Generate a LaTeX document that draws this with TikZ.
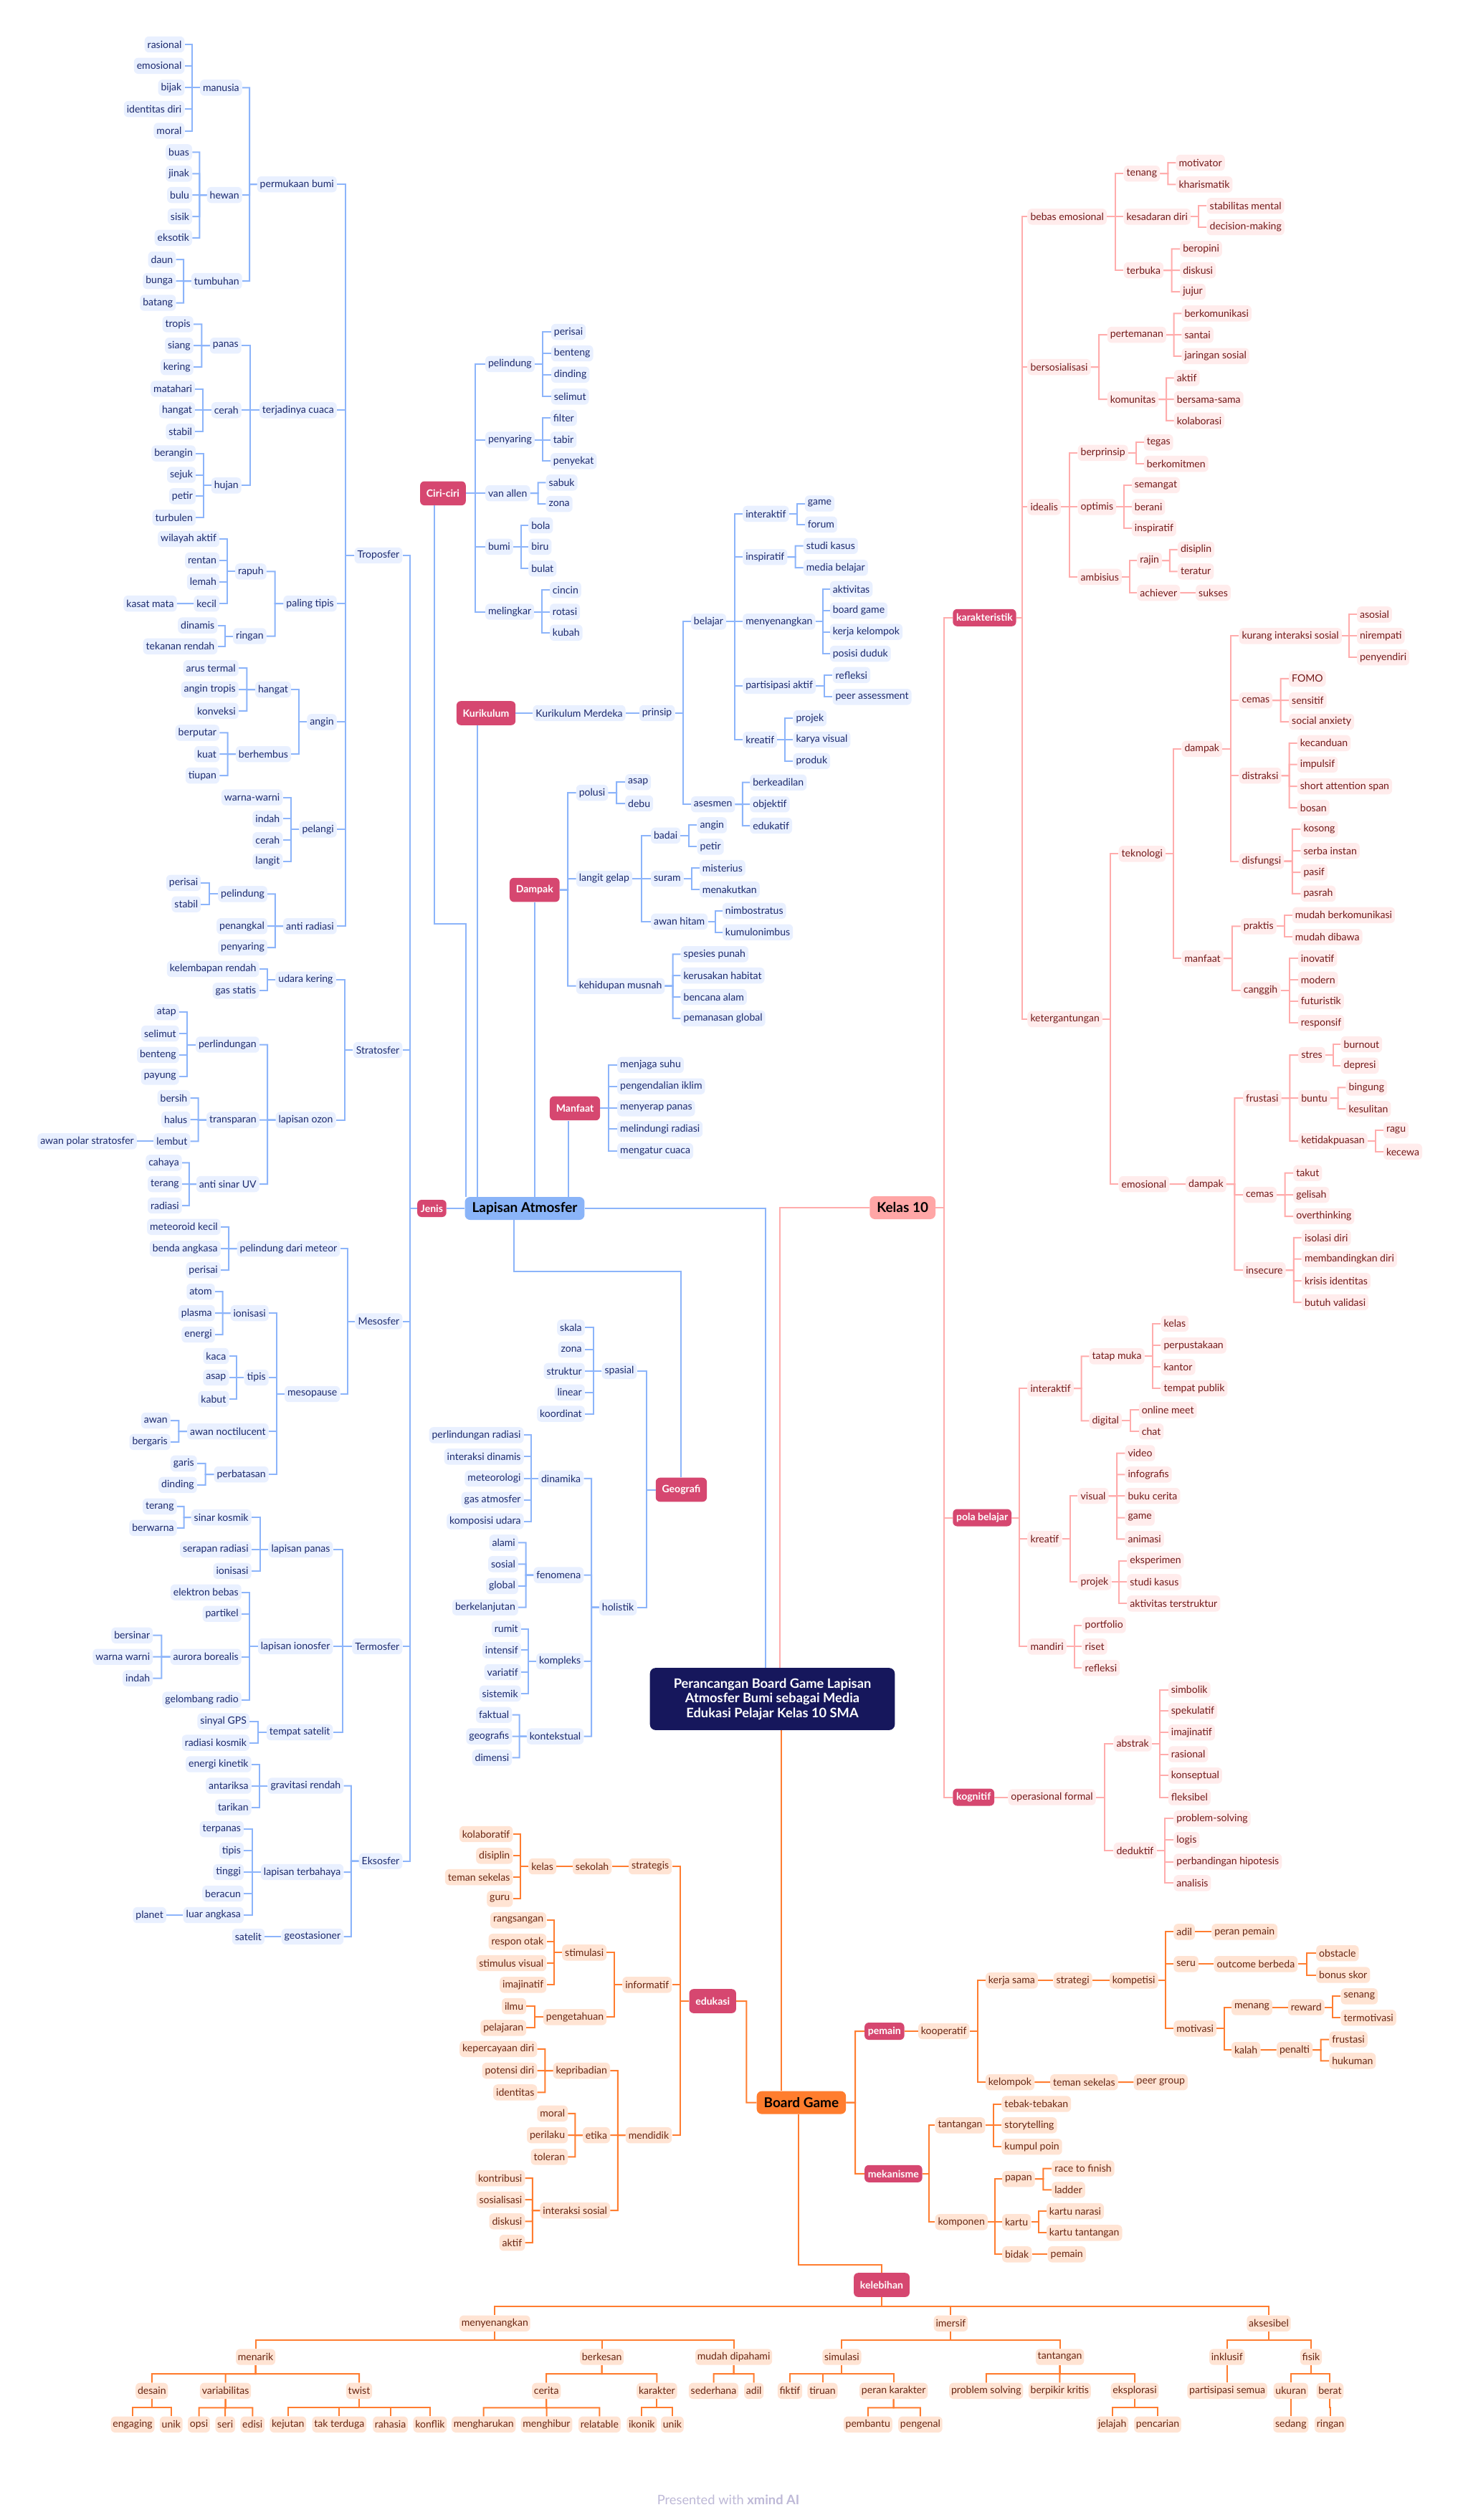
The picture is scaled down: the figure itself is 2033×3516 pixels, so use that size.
\documentclass[tikz,border=0pt]{standalone}
\usepackage{fontspec}
\setmainfont{Lato}
\usepackage{tikz}
\usetikzlibrary{calc}
\definecolor{bline}{RGB}{140,180,250}
\definecolor{bfill}{RGB}{233,240,255}
\definecolor{btext}{RGB}{28,42,110}
\definecolor{broot}{RGB}{138,180,248}
\definecolor{topicc}{RGB}{214,71,112}
\definecolor{pline}{RGB}{255,172,172}
\definecolor{pfill}{RGB}{255,236,236}
\definecolor{ptext}{RGB}{115,25,25}
\definecolor{proot}{RGB}{255,166,166}
\definecolor{oline}{RGB}{255,125,48}
\definecolor{ofill}{RGB}{255,228,212}
\definecolor{otext}{RGB}{105,38,18}
\definecolor{oroot}{RGB}{255,125,46}
\definecolor{navy}{RGB}{22,23,92}
\definecolor{footc}{RGB}{190,185,215}
\begin{document}
\begin{tikzpicture}[
    x=0.25mm, y=-0.25mm,
    leaf/.style={rounded corners=1.5mm, inner xsep=1mm, inner ysep=0.5mm, minimum height=5.6mm, font=\fontsize{10}{12}\selectfont},
    bl/.style={leaf, fill=bfill, text=btext},
    pl/.style={leaf, fill=pfill, text=ptext},
    ol/.style={leaf, fill=ofill, text=otext},
    olb/.style={ol, inner xsep=0.7mm},
    topic/.style={rounded corners=1.5mm, fill=topicc, text=white, inner xsep=2.2mm, minimum height=8.4mm, font=\bfseries\fontsize{10}{12}\selectfont},
    topics/.style={topic, minimum height=6mm, inner xsep=1.2mm},
    main/.style={rounded corners=1.8mm, text=black, inner xsep=2.5mm, minimum height=8mm, font=\bfseries\fontsize{13.5}{16}\selectfont},
    lnb/.style={draw=bline, line width=0.5mm},
    lnp/.style={draw=pline, line width=0.5mm},
    lno/.style={draw=oline, line width=0.5mm},
    toL/.style={to path={(\tikztostart.west) -- ($(\tikztostart.west)!.5!(\tikztotarget.east |- \tikztostart.west)$) |- (\tikztotarget.east)}},
    toR/.style={to path={(\tikztostart.east) -- ($(\tikztostart.east)!.5!(\tikztotarget.west |- \tikztostart.east)$) |- (\tikztotarget.west)}},
    toD/.style={to path={(\tikztostart.south) -- ($(\tikztostart.south)!.5!(\tikztostart.south |- \tikztotarget.north)$) -| (\tikztotarget.north)}}
]
\useasboundingbox (0,0) rectangle (2033,3516);
\fill[white] (0,0) rectangle (2033,3516);

\node[fill=navy, text=white, rounded corners=2mm, align=center, minimum width=85.4mm, minimum height=21.7mm, font=\bfseries\fontsize{13}{14.7}\selectfont] (cen) at (1077.5,2370.5) {Perancangan Board Game Lapisan\\Atmosfer Bumi sebagai Media\\Edukasi Pelajar Kelas 10 SMA};
\node[main, fill=broot] (la) at (732,1686) {Lapisan Atmosfer};
\node[main, fill=proot, anchor=west] (kel) at (1213,1685) {Kelas 10};
\node[main, fill=oroot] (bg) at (1117.9,2933.6) {Board Game};
\coordinate (cenL) at ($(cen.north)+(-9.5,0)$);
\coordinate (cenR) at ($(cen.north)+(10.5,0)$);
\coordinate (cenB) at ($(cen.south)+(12.5,0)$);
\draw[lnb] (la.east) -| (cenL);
\draw[lnp] (cenR) |- (kel.west);
\draw[lno] (cenB) -- (cenB |- bg.north);

\node[topics, anchor=east] (jen) at (623,1686) {Jenis};
\node[topic, anchor=west] (ciri) at (585.8,688.3) {Ciri-ciri};
\node[topic, anchor=west] (kur) at (636.6,995) {Kurikulum};
\node[topic, anchor=west] (dam) at (710.7,1241.6) {Dampak};
\node[topic, anchor=west] (manf) at (766.7,1546.4) {Manfaat};
\node[topic, anchor=west] (geo) at (914.5,2078.5) {Geografi};
\coordinate (j1) at (649.5,1289);
\coordinate (kurb) at ($(kur.south)+(-12,0)$);
\coordinate (manb) at ($(manf.south)+(-9,0)$);
\coordinate (lab) at ($(la.south)+(-15,0)$);
\draw[lnb] (jen.east) -- (la.west);
\draw[lnb] ($(ciri.south)+(-12,0)$) |- (j1) -- (j1 |- la.north);
\draw[lnb] (kurb) -- (kurb |- la.north);
\draw[lnb] (dam.south) -- (dam.south |- la.north);
\draw[lnb] (manb) -- (manb |- la.north);
\draw[lnb] (lab) -- ++(0,72) -| (geo.north);

\foreach \nm/\yy/\lb in {tro/775/Troposfer, str/1465/Stratosfer, mes/1843.5/Mesosfer, ter/2297/Termosfer, eks/2596.7/Eksosfer}
  {\node[bl,anchor=east] (\nm) at (561.6,\yy) {\lb}; \draw[lnb] (jen) to[toL] (\nm);}

\foreach \nm/\yy/\lb in {pbumi/257.2/permukaan bumi, cuaca/572.3/terjadinya cuaca, ptipis/842.1/paling tipis, angin/1007.4/angin, plangi/1157.3/pelangi, antirad/1292.2/anti radiasi}
  {\node[bl,anchor=east] (\nm) at (470,\yy) {\lb}; \draw[lnb] (tro) to[toL] (\nm);}
\foreach \nm/\yy/\lb in {manusia/122.3/manusia, hewan/272.1/hewan, tumbuhan/392.1/tumbuhan}
  {\node[bl,anchor=east] (\nm) at (338,\yy) {\lb}; \draw[lnb] (pbumi) to[toL] (\nm);}
\foreach \nm/\yy/\lb in {rasA/62/rasional, emo/91.8/emosional, bijak/122.3/bijak, idd/152.1/identitas diri, morA/182.5/moral}
  {\node[bl,anchor=east] (\nm) at (257.6,\yy) {\lb}; \draw[lnb] (manusia) to[toL] (\nm);}
\foreach \nm/\yy/\lb in {buas/212.4/buas, jinak/242.3/jinak, bulu/272.1/bulu, sisik/302/sisik, eksotik/331.8/eksotik}
  {\node[bl,anchor=east] (\nm) at (268.3,\yy) {\lb}; \draw[lnb] (hewan) to[toL] (\nm);}
\foreach \nm/\yy/\lb in {daun/362.2/daun, bunga/392.1/bunga, batang/422.5/batang}
  {\node[bl,anchor=east] (\nm) at (245.5,\yy) {\lb}; \draw[lnb] (tumbuhan) to[toL] (\nm);}
\foreach \nm/\yy/\lb in {panas/482.2/panas, cerahA/572.3/cerah, hujan/677.4/hujan}
  {\node[bl,anchor=east] (\nm) at (337,\yy) {\lb}; \draw[lnb] (cuaca) to[toL] (\nm);}
\foreach \nm/\yy/\lb in {tropis/452.4/tropis, siang/482.2/siang, kering/512.1/kering}
  {\node[bl,anchor=east] (\nm) at (270,\yy) {\lb}; \draw[lnb] (panas) to[toL] (\nm);}
\foreach \nm/\yy/\lb in {matahari/542.5/matahari, hangatA/572.3/hangat, stabA/602.2/stabil}
  {\node[bl,anchor=east] (\nm) at (272.3,\yy) {\lb}; \draw[lnb] (cerahA) to[toL] (\nm);}
\foreach \nm/\yy/\lb in {berangin/632.6/berangin, sejuk/662.5/sejuk, petirA/692.3/petir, turbulen/722.2/turbulen}
  {\node[bl,anchor=east] (\nm) at (273.2,\yy) {\lb}; \draw[lnb] (hujan) to[toL] (\nm);}
\foreach \nm/\yy/\lb in {rapuh/797.4/rapuh, ringanA/887.5/ringan}
  {\node[bl,anchor=east] (\nm) at (371.9,\yy) {\lb}; \draw[lnb] (ptipis) to[toL] (\nm);}
\foreach \nm/\yy/\lb in {wilaktif/752/wilayah aktif, rentan/781.9/rentan, lemah/811.7/lemah, kecil/842.1/kecil}
  {\node[bl,anchor=east] (\nm) at (306.3,\yy) {\lb}; \draw[lnb] (rapuh) to[toL] (\nm);}
\node[bl,anchor=east] (kasat) at (246.9,842.1) {kasat mata};
\draw[lnb] (kecil) to[toL] (kasat);
\foreach \nm/\yy/\lb in {dinamis/872.6/dinamis, tekrendah/901.8/tekanan rendah}
  {\node[bl,anchor=east] (\nm) at (303.6,\yy) {\lb}; \draw[lnb] (ringanA) to[toL] (\nm);}
\foreach \nm/\yy/\lb in {hangatB/962.1/hangat, berhembus/1052.2/berhembus}
  {\node[bl,anchor=east] (\nm) at (406.3,\yy) {\lb}; \draw[lnb] (angin) to[toL] (\nm);}
\foreach \nm/\yy/\lb in {arus/932.2/arus termal, angtropis/962.1/angin tropis, konveksi/991.9/konveksi}
  {\node[bl,anchor=east] (\nm) at (333,\yy) {\lb}; \draw[lnb] (hangatB) to[toL] (\nm);}
\foreach \nm/\yy/\lb in {berputar/1022.4/berputar, kuat/1052.2/kuat, tiupan/1082.1/tiupan}
  {\node[bl,anchor=east] (\nm) at (306.3,\yy) {\lb}; \draw[lnb] (berhembus) to[toL] (\nm);}
\foreach \nm/\yy/\lb in {warnaA/1112.5/warna-warni, indahA/1142.3/indah, cerahB/1172.2/cerah, langit/1202/langit}
  {\node[bl,anchor=east] (\nm) at (394.6,\yy) {\lb}; \draw[lnb] (plangi) to[toL] (\nm);}
\foreach \nm/\yy/\lb in {pelA/1247.4/pelindung, penangkal/1292.2/penangkal, penyA/1322/penyaring}
  {\node[bl,anchor=east] (\nm) at (373.2,\yy) {\lb}; \draw[lnb] (antirad) to[toL] (\nm);}
\foreach \nm/\yy/\lb in {perA/1231.9/perisai, stabB/1261.7/stabil}
  {\node[bl,anchor=east] (\nm) at (280.4,\yy) {\lb}; \draw[lnb] (pelA) to[toL] (\nm);}

\foreach \nm/\yy/\lb in {udkering/1366.8/udara kering, ozon/1562.6/lapisan ozon}
  {\node[bl,anchor=east] (\nm) at (468.8,\yy) {\lb}; \draw[lnb] (str) to[toL] (\nm);}
\foreach \nm/\yy/\lb in {lembap/1351.9/kelembapan rendah, gasstatis/1382.3/gas statis}
  {\node[bl,anchor=east] (\nm) at (361.6,\yy) {\lb}; \draw[lnb] (udkering) to[toL] (\nm);}
\foreach \nm/\yy/\lb in {perlind/1457.5/perlindungan, transp/1562.6/transparan, antiuv/1652.1/anti sinar UV}
  {\node[bl,anchor=east] (\nm) at (362,\yy) {\lb}; \draw[lnb] (ozon) to[toL] (\nm);}
\foreach \nm/\yy/\lb in {atap/1412.2/atap, selA/1442/selimut, bentA/1471.9/benteng, payung/1502.3/payung}
  {\node[bl,anchor=east] (\nm) at (250,\yy) {\lb}; \draw[lnb] (perlind) to[toL] (\nm);}
\foreach \nm/\yy/\lb in {bersih/1532.1/bersih, halus/1562/halus, lembut/1592.4/lembut}
  {\node[bl,anchor=east] (\nm) at (265.6,\yy) {\lb}; \draw[lnb] (transp) to[toL] (\nm);}
\node[bl,anchor=east] (awanpolar) at (191.1,1592.4) {awan polar stratosfer};
\draw[lnb] (lembut) to[toL] (awanpolar);
\foreach \nm/\yy/\lb in {cahaya/1622.3/cahaya, terA/1652.1/terang, radA/1682/radiasi}
  {\node[bl,anchor=east] (\nm) at (254,\yy) {\lb}; \draw[lnb] (antiuv) to[toL] (\nm);}

\foreach \nm/\yy/\lb in {pdm/1742.2/pelindung dari meteor, mesop/1945/mesopause}
  {\node[bl,anchor=east] (\nm) at (474.6,\yy) {\lb}; \draw[lnb] (mes) to[toL] (\nm);}
\foreach \nm/\yy/\lb in {metkecil/1711.8/meteoroid kecil, benda/1742.2/benda angkasa, perB/1772.1/perisai}
  {\node[bl,anchor=east] (\nm) at (308,\yy) {\lb}; \draw[lnb] (pdm) to[toL] (\nm);}
\foreach \nm/\yy/\lb in {ionA/1832.1/ionisasi, tipA/1922/tipis, noct/1997.2/awan noctilucent, perbat/2057.2/perbatasan}
  {\node[bl,anchor=east] (\nm) at (375,\yy) {\lb}; \draw[lnb] (mesop) to[toL] (\nm);}
\foreach \nm/\yy/\lb in {atom/1802.1/atom, plasma/1832.1/plasma, energi/1862/energi}
  {\node[bl,anchor=east] (\nm) at (300,\yy) {\lb}; \draw[lnb] (ionA) to[toL] (\nm);}
\foreach \nm/\yy/\lb in {kaca/1892/kaca, asapA/1922/asap, kabut/1952/kabut}
  {\node[bl,anchor=east] (\nm) at (319.6,\yy) {\lb}; \draw[lnb] (tipA) to[toL] (\nm);}
\foreach \nm/\yy/\lb in {awan/1982/awan, bergaris/2011.9/bergaris}
  {\node[bl,anchor=east] (\nm) at (238,\yy) {\lb}; \draw[lnb] (noct) to[toL] (\nm);}
\foreach \nm/\yy/\lb in {garis/2041.9/garis, dindA/2071.9/dinding}
  {\node[bl,anchor=east] (\nm) at (275,\yy) {\lb}; \draw[lnb] (perbat) to[toL] (\nm);}

\foreach \nm/\yy/\lb in {lpanas/2161.8/lapisan panas, lion/2297/lapisan ionosfer, tsat/2416.9/tempat satelit}
  {\node[bl,anchor=east] (\nm) at (464.7,\yy) {\lb}; \draw[lnb] (ter) to[toL] (\nm);}
\foreach \nm/\yy/\lb in {sinkos/2117.1/sinar kosmik, serapan/2161.8/serapan radiasi, ionB/2191.8/ionisasi}
  {\node[bl,anchor=east] (\nm) at (350.9,\yy) {\lb}; \draw[lnb] (lpanas) to[toL] (\nm);}
\foreach \nm/\yy/\lb in {terB/2101.8/terang, berwarna/2131.8/berwarna}
  {\node[bl,anchor=east] (\nm) at (246.9,\yy) {\lb}; \draw[lnb] (sinkos) to[toL] (\nm);}
\foreach \nm/\yy/\lb in {elektron/2221.7/elektron bebas, partikel/2251.7/partikel, aurora/2311.7/aurora borealis, gelradio/2371.6/gelombang radio}
  {\node[bl,anchor=east] (\nm) at (337,\yy) {\lb}; \draw[lnb] (lion) to[toL] (\nm);}
\foreach \nm/\yy/\lb in {bersinar/2281.7/bersinar, warnaB/2311.7/warna warni, indahB/2341.6/indah}
  {\node[bl,anchor=east] (\nm) at (213.4,\yy) {\lb}; \draw[lnb] (aurora) to[toL] (\nm);}
\foreach \nm/\yy/\lb in {gps/2401.6/sinyal GPS, radkos/2431.6/radiasi kosmik}
  {\node[bl,anchor=east] (\nm) at (348.2,\yy) {\lb}; \draw[lnb] (tsat) to[toL] (\nm);}

\foreach \nm/\yy/\lb in {grav/2491.5/gravitasi rendah, terbahaya/2612/lapisan terbahaya, geostas/2702/geostasioner}
  {\node[bl,anchor=east] (\nm) at (479.5,\yy) {\lb}; \draw[lnb] (eks) to[toL] (\nm);}
\foreach \nm/\yy/\lb in {enkin/2461.5/energi kinetik, antariksa/2491.5/antariksa, tarikan/2521.5/tarikan}
  {\node[bl,anchor=east] (\nm) at (350.9,\yy) {\lb}; \draw[lnb] (grav) to[toL] (\nm);}
\foreach \nm/\yy/\lb in {terpanas/2552.1/terpanas, tipB/2582.1/tipis, tinggi/2612/tinggi, beracun/2642/beracun, luarang/2672/luar angkasa}
  {\node[bl,anchor=east] (\nm) at (340.2,\yy) {\lb}; \draw[lnb] (terbahaya) to[toL] (\nm);}
\node[bl,anchor=east] (planet) at (232.1,2672) {planet};
\draw[lnb] (luarang) to[toL] (planet);
\node[bl,anchor=east] (satelit) at (369.2,2702) {satelit};
\draw[lnb] (geostas) to[toL] (satelit);

\foreach \nm/\yy/\lb in {pelB/507.9/pelindung, penyB/613.5/penyaring, vanallen/688.2/van allen, bumi/762.8/bumi, melingkar/853.5/melingkar}
  {\node[bl,anchor=west] (\nm) at (676.8,\yy) {\lb}; \draw[lnb] (ciri) to[toR] (\nm);}
\foreach \nm/\yy/\lb in {perC/463.1/perisai, bentB/493/benteng, dindB/522.8/dinding, selB/553.3/selimut}
  {\node[bl,anchor=west] (\nm) at (768.6,\yy) {\lb}; \draw[lnb] (pelB) to[toR] (\nm);}
\foreach \nm/\yy/\lb in {filter/583.1/filter, tabir/613.5/tabir, penyekat/643.4/penyekat}
  {\node[bl,anchor=west] (\nm) at (767.6,\yy) {\lb}; \draw[lnb] (penyB) to[toR] (\nm);}
\foreach \nm/\yy/\lb in {sabuk/673.3/sabuk, zonaA/703.1/zona}
  {\node[bl,anchor=west] (\nm) at (761.4,\yy) {\lb}; \draw[lnb] (vanallen) to[toR] (\nm);}
\foreach \nm/\yy/\lb in {bola/733/bola, biru/762.8/biru, bulat/793.2/bulat}
  {\node[bl,anchor=west] (\nm) at (737,\yy) {\lb}; \draw[lnb] (bumi) to[toR] (\nm);}
\foreach \nm/\yy/\lb in {cincin/823.1/cincin, rotasi/853.5/rotasi, kubah/882.8/kubah}
  {\node[bl,anchor=west] (\nm) at (766.7,\yy) {\lb}; \draw[lnb] (melingkar) to[toR] (\nm);}

\node[bl,anchor=west] (kurm) at (743.2,995) {Kurikulum Merdeka};
\node[bl,anchor=west] (prinsip) at (891.5,995) {prinsip};
\draw[lnb] (kur) to[toR] (kurm);
\draw[lnb] (kurm) to[toR] (prinsip);
\foreach \nm/\yy/\lb in {belajar/867.3/belajar, asesmen/1122.2/asesmen}
  {\node[bl,anchor=west] (\nm) at (963.7,\yy) {\lb}; \draw[lnb] (prinsip) to[toR] (\nm);}
\foreach \nm/\yy/\lb in {intA/716.9/interaktif, inspA/777.2/inspiratif, senangA/867.3/menyenangkan, partaktif/956.8/partisipasi aktif, kreA/1032/kreatif}
  {\node[bl,anchor=west] (\nm) at (1036,\yy) {\lb}; \draw[lnb] (belajar) to[toR] (\nm);}
\foreach \nm/\yy/\lb in {gameA/702.5/game, forum/731.8/forum}
  {\node[bl,anchor=west] (\nm) at (1122.5,\yy) {\lb}; \draw[lnb] (intA) to[toR] (\nm);}
\foreach \nm/\yy/\lb in {stkasA/761.7/studi kasus, medbel/792.1/media belajar}
  {\node[bl,anchor=west] (\nm) at (1120.6,\yy) {\lb}; \draw[lnb] (inspA) to[toR] (\nm);}
\foreach \nm/\yy/\lb in {aktivitas/821.9/aktivitas, bgame/851.8/board game, kerjakel/881.6/kerja kelompok, posisi/912.1/posisi duduk}
  {\node[bl,anchor=west] (\nm) at (1157.5,\yy) {\lb}; \draw[lnb] (senangA) to[toR] (\nm);}
\foreach \nm/\yy/\lb in {refA/941.9/refleksi, peerass/972.3/peer assessment}
  {\node[bl,anchor=west] (\nm) at (1161.3,\yy) {\lb}; \draw[lnb] (partaktif) to[toR] (\nm);}
\foreach \nm/\yy/\lb in {projA/1002.2/projek, karya/1032/karya visual, produk/1061.9/produk}
  {\node[bl,anchor=west] (\nm) at (1106.3,\yy) {\lb}; \draw[lnb] (kreA) to[toR] (\nm);}
\foreach \nm/\yy/\lb in {berkeadilan/1091.7/berkeadilan, objektif/1122.2/objektif, edukatif/1152/edukatif}
  {\node[bl,anchor=west] (\nm) at (1046,\yy) {\lb}; \draw[lnb] (asesmen) to[toR] (\nm);}

\foreach \nm/\yy/\lb in {polusi/1106.1/polusi, lgelap/1226/langit gelap, musnah/1375.7/kehidupan musnah}
  {\node[bl,anchor=west] (\nm) at (803.5,\yy) {\lb}; \draw[lnb] (dam) to[toR] (\nm);}
\foreach \nm/\yy/\lb in {asapB/1091.2/asap, debu/1121/debu}
  {\node[bl,anchor=west] (\nm) at (871.9,\yy) {\lb}; \draw[lnb] (polusi) to[toR] (\nm);}
\foreach \nm/\yy/\lb in {badai/1165.8/badai, suram/1226/suram, awhitam/1285.8/awan hitam}
  {\node[bl,anchor=west] (\nm) at (907.8,\yy) {\lb}; \draw[lnb] (lgelap) to[toR] (\nm);}
\foreach \nm/\yy/\lb in {anginB/1151.4/angin, petirB/1181.3/petir}
  {\node[bl,anchor=west] (\nm) at (972.4,\yy) {\lb}; \draw[lnb] (badai) to[toR] (\nm);}
\foreach \nm/\yy/\lb in {misterius/1211.1/misterius, menakutkan/1241/menakutkan}
  {\node[bl,anchor=west] (\nm) at (975.7,\yy) {\lb}; \draw[lnb] (suram) to[toR] (\nm);}
\foreach \nm/\yy/\lb in {nimbo/1270.8/nimbostratus, kumulo/1300.7/kumulonimbus}
  {\node[bl,anchor=west] (\nm) at (1007.7,\yy) {\lb}; \draw[lnb] (awhitam) to[toR] (\nm);}
\foreach \nm/\yy/\lb in {spesies/1331.3/spesies punah, habitat/1361.1/kerusakan habitat, bencana/1391/bencana alam, pemanasan/1420.8/pemanasan global}
  {\node[bl,anchor=west] (\nm) at (949.4,\yy) {\lb}; \draw[lnb] (musnah) to[toR] (\nm);}

\foreach \nm/\yy/\lb in {suhu/1485.9/menjaga suhu, iklim/1515.7/pengendalian iklim, serap/1546.3/menyerap panas, melrad/1575.4/melindungi radiasi, atcuaca/1606/mengatur cuaca}
  {\node[bl,anchor=west] (\nm) at (860.9,\yy) {\lb}; \draw[lnb] (manf) to[toR] (\nm);}

\foreach \nm/\yy/\lb in {spasial/1912.9/spasial, holistik/2242.7/holistik}
  {\node[bl,anchor=east] (\nm) at (888.6,\yy) {\lb}; \draw[lnb] (geo) to[toL] (\nm);}
\foreach \nm/\yy/\lb in {skala/1852.4/skala, zonaB/1883/zona, struktur/1912.9/struktur, linear/1942.7/linear, koordinat/1972.6/koordinat}
  {\node[bl,anchor=east] (\nm) at (816,\yy) {\lb}; \draw[lnb] (spasial) to[toL] (\nm);}
\foreach \nm/\yy/\lb in {dinamika/2062.9/dinamika, fenomena/2197.6/fenomena, kompleks/2317.8/kompleks, kontekstual/2422.6/kontekstual}
  {\node[bl,anchor=east] (\nm) at (814.5,\yy) {\lb}; \draw[lnb] (holistik) to[toL] (\nm);}
\foreach \nm/\yy/\lb in {perlrad/2002.4/perlindungan radiasi, intdin/2032.3/interaksi dinamis, meteor/2062.9/meteorologi, gasatm/2092.7/gas atmosfer, kompud/2122.6/komposisi udara}
  {\node[bl,anchor=east] (\nm) at (730.8,\yy) {\lb}; \draw[lnb] (dinamika) to[toL] (\nm);}
\foreach \nm/\yy/\lb in {alami/2152.4/alami, sosial/2182.3/sosial, global/2212.9/global, berkelanjutan/2242.7/berkelanjutan}
  {\node[bl,anchor=east] (\nm) at (723.1,\yy) {\lb}; \draw[lnb] (fenomena) to[toL] (\nm);}
\foreach \nm/\yy/\lb in {rumit/2272.6/rumit, intensif/2302.4/intensif, variatif/2333/variatif, sistemik/2362.9/sistemik}
  {\node[bl,anchor=east] (\nm) at (727,\yy) {\lb}; \draw[lnb] (kompleks) to[toL] (\nm);}
\foreach \nm/\yy/\lb in {faktual/2392.7/faktual, geografis/2422.6/geografis, dimensi/2452.4/dimensi}
  {\node[bl,anchor=east] (\nm) at (714.5,\yy) {\lb}; \draw[lnb] (kontekstual) to[toL] (\nm);}

\foreach \nm/\yy/\lb in {karak/861.8/karakteristik, polab/2117.5/pola belajar, kogn/2507.5/kognitif}
  {\node[topics,anchor=west] (\nm) at (1329,\yy) {\lb}; \draw[lnp] (kel) to[toR] (\nm);}
\foreach \nm/\yy/\lb in {bebas/302.3/bebas emosional, bersos/512.1/bersosialisasi, idealis/707.3/idealis, ketg/1422/ketergantungan}
  {\node[pl,anchor=west] (\nm) at (1433.2,\yy) {\lb}; \draw[lnp] (karak) to[toR] (\nm);}
\foreach \nm/\yy/\lb in {tenang/242.2/tenang, sadar/302.3/kesadaran diri, terbuka/377.1/terbuka}
  {\node[pl,anchor=west] (\nm) at (1567.4,\yy) {\lb}; \draw[lnp] (bebas) to[toR] (\nm);}
\foreach \nm/\yy/\lb in {motivator/227/motivator, kharis/257.3/kharismatik}
  {\node[pl,anchor=west] (\nm) at (1640.3,\yy) {\lb}; \draw[lnp] (tenang) to[toR] (\nm);}
\foreach \nm/\yy/\lb in {stabmen/287.2/stabilitas mental, decision/317/decision-making}
  {\node[pl,anchor=west] (\nm) at (1683.4,\yy) {\lb}; \draw[lnp] (sadar) to[toR] (\nm);}
\foreach \nm/\yy/\lb in {beropini/347.3/beropini, diskA/377.1/diskusi, jujur/407/jujur}
  {\node[pl,anchor=west] (\nm) at (1646,\yy) {\lb}; \draw[lnp] (terbuka) to[toR] (\nm);}
\foreach \nm/\yy/\lb in {pertemanan/467.1/pertemanan, komunitas/557.1/komunitas}
  {\node[pl,anchor=west] (\nm) at (1544.5,\yy) {\lb}; \draw[lnp] (bersos) to[toR] (\nm);}
\foreach \nm/\yy/\lb in {berkom/437.3/berkomunikasi, santai/467.1/santai, jarsos/496.9/jaringan sosial}
  {\node[pl,anchor=west] (\nm) at (1648.3,\yy) {\lb}; \draw[lnp] (pertemanan) to[toR] (\nm);}
\foreach \nm/\yy/\lb in {aktA/527.3/aktif, bersama/557.1/bersama-sama, kolaborasi/586.9/kolaborasi}
  {\node[pl,anchor=west] (\nm) at (1637.5,\yy) {\lb}; \draw[lnp] (komunitas) to[toR] (\nm);}
\foreach \nm/\yy/\lb in {berprinsip/631.9/berprinsip, optimis/707.3/optimis, ambisius/804.9/ambisius}
  {\node[pl,anchor=west] (\nm) at (1503.4,\yy) {\lb}; \draw[lnp] (idealis) to[toR] (\nm);}
\foreach \nm/\yy/\lb in {tegas/617.3/tegas, berkomitmen/647.1/berkomitmen}
  {\node[pl,anchor=west] (\nm) at (1595.5,\yy) {\lb}; \draw[lnp] (berprinsip) to[toR] (\nm);}
\foreach \nm/\yy/\lb in {semangat/676.9/semangat, berani/707.3/berani, inspB/737.1/inspiratif}
  {\node[pl,anchor=west] (\nm) at (1578.6,\yy) {\lb}; \draw[lnp] (optimis) to[toR] (\nm);}
\foreach \nm/\yy/\lb in {rajin/782.1/rajin, achiever/827.1/achiever}
  {\node[pl,anchor=west] (\nm) at (1586.1,\yy) {\lb}; \draw[lnp] (ambisius) to[toR] (\nm);}
\foreach \nm/\yy/\lb in {disA/766.9/disiplin, teratur/797.3/teratur}
  {\node[pl,anchor=west] (\nm) at (1642.7,\yy) {\lb}; \draw[lnp] (rajin) to[toR] (\nm);}
\node[pl,anchor=west] (sukses) at (1667.9,827.1) {sukses};
\draw[lnp] (achiever) to[toR] (sukses);
\foreach \nm/\yy/\lb in {teknologi/1191.3/teknologi, emosional/1652.2/emosional}
  {\node[pl,anchor=west] (\nm) at (1560.4,\yy) {\lb}; \draw[lnp] (ketg) to[toR] (\nm);}
\foreach \nm/\yy/\lb in {dampA/1044.9/dampak, manfA/1337.1/manfaat}
  {\node[pl,anchor=west] (\nm) at (1648.3,\yy) {\lb}; \draw[lnp] (teknologi) to[toR] (\nm);}
\foreach \nm/\yy/\lb in {kis/887.3/kurang interaksi sosial, cemA/977.2/cemas, distraksi/1082.2/distraksi, disfungsi/1201.6/disfungsi}
  {\node[pl,anchor=west] (\nm) at (1728.2,\yy) {\lb}; \draw[lnp] (dampA) to[toR] (\nm);}
\foreach \nm/\yy/\lb in {asosial/857.4/asosial, nirempati/887.3/nirempati, penyendiri/917.1/penyendiri}
  {\node[pl,anchor=west] (\nm) at (1892.8,\yy) {\lb}; \draw[lnp] (kis) to[toR] (\nm);}
\foreach \nm/\yy/\lb in {fomo/946.9/FOMO, sensitif/977.2/sensitif, socanx/1007/social anxiety}
  {\node[pl,anchor=west] (\nm) at (1797.9,\yy) {\lb}; \draw[lnp] (cemA) to[toR] (\nm);}
\foreach \nm/\yy/\lb in {kecanduan/1036.8/kecanduan, impulsif/1066.7/impulsif, short/1097.1/short attention span, bosan/1127/bosan}
  {\node[pl,anchor=west] (\nm) at (1809.6,\yy) {\lb}; \draw[lnp] (distraksi) to[toR] (\nm);}
\foreach \nm/\yy/\lb in {kosong/1156.8/kosong, serba/1187.2/serba instan, pasif/1217.1/pasif, pasrah/1246.9/pasrah}
  {\node[pl,anchor=west] (\nm) at (1814.3,\yy) {\lb}; \draw[lnp] (disfungsi) to[toR] (\nm);}
\foreach \nm/\yy/\lb in {praktis/1292.3/praktis, canggih/1381.8/canggih}
  {\node[pl,anchor=west] (\nm) at (1730.6,\yy) {\lb}; \draw[lnp] (manfA) to[toR] (\nm);}
\foreach \nm/\yy/\lb in {mudkom/1276.8/mudah berkomunikasi, mudbawa/1307.2/mudah dibawa}
  {\node[pl,anchor=west] (\nm) at (1802.6,\yy) {\lb}; \draw[lnp] (praktis) to[toR] (\nm);}
\foreach \nm/\yy/\lb in {inovatif/1337.1/inovatif, modern/1366.9/modern, futuristik/1396.8/futuristik, responsif/1427.2/responsif}
  {\node[pl,anchor=west] (\nm) at (1810.5,\yy) {\lb}; \draw[lnp] (canggih) to[toR] (\nm);}
\node[pl,anchor=west] (dampB) at (1653.9,1652.2) {dampak};
\draw[lnp] (emosional) to[toR] (dampB);
\foreach \nm/\yy/\lb in {frusA/1532.2/frustasi, cemB/1667.1/cemas, insecure/1772.2/insecure}
  {\node[pl,anchor=west] (\nm) at (1733.8,\yy) {\lb}; \draw[lnp] (dampB) to[toR] (\nm);}
\foreach \nm/\yy/\lb in {stres/1472/stres, buntu/1532.2/buntu, tidakpuas/1592/ketidakpuasan}
  {\node[pl,anchor=west] (\nm) at (1811,\yy) {\lb}; \draw[lnp] (frusA) to[toR] (\nm);}
\foreach \nm/\yy/\lb in {burnout/1457/burnout, depresi/1486.9/depresi}
  {\node[pl,anchor=west] (\nm) at (1870.4,\yy) {\lb}; \draw[lnp] (stres) to[toR] (\nm);}
\foreach \nm/\yy/\lb in {bingung/1517.3/bingung, kesulitan/1547.2/kesulitan}
  {\node[pl,anchor=west] (\nm) at (1877.4,\yy) {\lb}; \draw[lnp] (buntu) to[toR] (\nm);}
\foreach \nm/\yy/\lb in {ragu/1577/ragu, kecewa/1606.9/kecewa}
  {\node[pl,anchor=west] (\nm) at (1929.7,\yy) {\lb}; \draw[lnp] (tidakpuas) to[toR] (\nm);}
\foreach \nm/\yy/\lb in {takut/1636.7/takut, gelisah/1667.1/gelisah, overthinking/1697/overthinking}
  {\node[pl,anchor=west] (\nm) at (1804,\yy) {\lb}; \draw[lnp] (cemB) to[toR] (\nm);}
\foreach \nm/\yy/\lb in {isolasi/1726.9/isolasi diri, banding/1756.7/membandingkan diri, krisis/1787.1/krisis identitas, validasi/1817/butuh validasi}
  {\node[pl,anchor=west] (\nm) at (1815.7,\yy) {\lb}; \draw[lnp] (insecure) to[toR] (\nm);}

\foreach \nm/\yy/\lb in {intB/1937.1/interaktif, kreB/2147.3/kreatif, mandiri/2297.4/mandiri}
  {\node[pl,anchor=west] (\nm) at (1433.2,\yy) {\lb}; \draw[lnp] (polab) to[toR] (\nm);}
\foreach \nm/\yy/\lb in {tatap/1892.3/tatap muka, digital/1982.3/digital}
  {\node[pl,anchor=west] (\nm) at (1519.3,\yy) {\lb}; \draw[lnp] (intB) to[toR] (\nm);}
\foreach \nm/\yy/\lb in {kelA/1846.8/kelas, perpus/1877.4/perpustakaan, kantor/1907.3/kantor, publik/1937.1/tempat publik}
  {\node[pl,anchor=west] (\nm) at (1619.3,\yy) {\lb}; \draw[lnp] (tatap) to[toR] (\nm);}
\foreach \nm/\yy/\lb in {online/1967.4/online meet, chat/1997.2/chat}
  {\node[pl,anchor=west] (\nm) at (1588.5,\yy) {\lb}; \draw[lnp] (digital) to[toR] (\nm);}
\foreach \nm/\yy/\lb in {visual/2087.2/visual, projB/2207.4/projek}
  {\node[pl,anchor=west] (\nm) at (1503.4,\yy) {\lb}; \draw[lnp] (kreB) to[toR] (\nm);}
\foreach \nm/\yy/\lb in {video/2027.5/video, infografis/2057.3/infografis, buku/2087.2/buku cerita, gameB/2117.5/game, animasi/2147.3/animasi}
  {\node[pl,anchor=west] (\nm) at (1569.3,\yy) {\lb}; \draw[lnp] (visual) to[toR] (\nm);}
\foreach \nm/\yy/\lb in {eksperimen/2177.6/eksperimen, stkasB/2207.4/studi kasus, aktstruk/2237.3/aktivitas terstruktur}
  {\node[pl,anchor=west] (\nm) at (1572.1,\yy) {\lb}; \draw[lnp] (projB) to[toR] (\nm);}
\foreach \nm/\yy/\lb in {portfolio/2267.5/portfolio, riset/2297.4/riset, refB/2327.2/refleksi}
  {\node[pl,anchor=west] (\nm) at (1509.4,\yy) {\lb}; \draw[lnp] (mandiri) to[toR] (\nm);}
\node[pl,anchor=west] (opf) at (1406.2,2507.5) {operasional formal};
\draw[lnp] (kogn) to[toR] (opf);
\foreach \nm/\yy/\lb in {abstrak/2432.5/abstrak, deduktif/2581.9/deduktif}
  {\node[pl,anchor=west] (\nm) at (1553.3,\yy) {\lb}; \draw[lnp] (opf) to[toR] (\nm);}
\foreach \nm/\yy/\lb in {simbolik/2357.5/simbolik, spekulatif/2387.4/spekulatif, imajA/2417.2/imajinatif, rasB/2447.5/rasional, konseptual/2477.3/konseptual, fleksibel/2507.5/fleksibel}
  {\node[pl,anchor=west] (\nm) at (1629.6,\yy) {\lb}; \draw[lnp] (abstrak) to[toR] (\nm);}
\foreach \nm/\yy/\lb in {probsolv/2537.4/problem-solving, logis/2567.2/logis, hipotesis/2597.5/perbandingan hipotesis, analisis/2627.4/analisis}
  {\node[pl,anchor=west] (\nm) at (1637.1,\yy) {\lb}; \draw[lnp] (deduktif) to[toR] (\nm);}

\node[topic,anchor=east] (edu) at (1027.2,2792) {edukasi};
\draw[lno] (bg) to[toL] (edu);
\foreach \nm/\yy/\lb in {strategis/2604/strategis, informatif/2769.3/informatif, mendidik/2979.1/mendidik}
  {\node[ol,anchor=east] (\nm) at (937.5,\yy) {\lb}; \draw[lno] (edu) to[toL] (\nm);}
\node[ol,anchor=east] (sekolah) at (853.6,2604) {sekolah};
\node[ol,anchor=east] (kelB) at (776.3,2604) {kelas};
\draw[lno] (strategis) to[toL] (sekolah);
\draw[lno] (sekolah) to[toL] (kelB);
\foreach \nm/\yy/\lb in {kolab/2559/kolaboratif, disB/2589.3/disiplin, temanA/2619.1/teman sekelas, guru/2649.4/guru}
  {\node[ol,anchor=east] (\nm) at (715.6,\yy) {\lb}; \draw[lno] (kelB) to[toL] (\nm);}
\foreach \nm/\yy/\lb in {stimulasi/2724.3/stimulasi, pengetahuan/2814.3/pengetahuan}
  {\node[ol,anchor=east] (\nm) at (846.4,\yy) {\lb}; \draw[lno] (informatif) to[toL] (\nm);}
\foreach \nm/\yy/\lb in {rangsangan/2679.3/rangsangan, respon/2709.1/respon otak, stimvis/2739/stimulus visual, imajB/2769.3/imajinatif}
  {\node[ol,anchor=east] (\nm) at (762.5,\yy) {\lb}; \draw[lno] (stimulasi) to[toL] (\nm);}
\foreach \nm/\yy/\lb in {ilmu/2799.1/ilmu, pelajaran/2829.4/pelajaran}
  {\node[ol,anchor=east] (\nm) at (734.4,\yy) {\lb}; \draw[lno] (pengetahuan) to[toL] (\nm);}
\foreach \nm/\yy/\lb in {kepribadian/2889.1/kepribadian, etika/2979.1/etika, intsos/3084.2/interaksi sosial}
  {\node[ol,anchor=east] (\nm) at (851.3,\yy) {\lb}; \draw[lno] (mendidik) to[toL] (\nm);}
\foreach \nm/\yy/\lb in {percaya/2858.8/kepercayaan diri, potensi/2889.1/potensi diri, idtB/2919.4/identitas}
  {\node[ol,anchor=east] (\nm) at (749.6,\yy) {\lb}; \draw[lno] (kepribadian) to[toL] (\nm);}
\foreach \nm/\yy/\lb in {morB/2948.8/moral, perilaku/2979.1/perilaku, toleran/3009.4/toleran}
  {\node[ol,anchor=east] (\nm) at (792.4,\yy) {\lb}; \draw[lno] (etika) to[toL] (\nm);}
\foreach \nm/\yy/\lb in {kontribusi/3039.2/kontribusi, sosialisasi/3069.1/sosialisasi, diskB/3099.4/diskusi, aktB/3129.2/aktif}
  {\node[ol,anchor=east] (\nm) at (732.6,\yy) {\lb}; \draw[lno] (intsos) to[toL] (\nm);}

\foreach \nm/\yy/\lb in {pemA/2834/pemain, mekanisme/3032.8/mekanisme}
  {\node[topics,anchor=west] (\nm) at (1205.8,\yy) {\lb}; \draw[lno] (bg) to[toR] (\nm);}
\node[ol,anchor=west] (kooperatif) at (1280.7,2834) {kooperatif};
\draw[lno] (pemA) to[toR] (kooperatif);
\foreach \nm/\yy/\lb in {kerjasama/2763.3/kerja sama, kelompok/2905.2/kelompok}
  {\node[ol,anchor=west] (\nm) at (1374.7,\yy) {\lb}; \draw[lno] (kooperatif) to[toR] (\nm);}
\node[ol,anchor=west] (strategi) at (1469.3,2763.3) {strategi};
\node[ol,anchor=west] (kompetisi) at (1547.6,2763.3) {kompetisi};
\draw[lno] (kerjasama) to[toR] (strategi);
\draw[lno] (strategi) to[toR] (kompetisi);
\foreach \nm/\yy/\lb in {adilA/2695.3/adil, seru/2740.3/seru, motivasi/2830.3/motivasi}
  {\node[ol,anchor=west] (\nm) at (1637.1,\yy) {\lb}; \draw[lno] (kompetisi) to[toR] (\nm);}
\node[ol,anchor=west] (peran) at (1690.1,2695.3) {peran pemain};
\draw[lno] (adilA) to[toR] (peran);
\node[ol,anchor=west] (outcome) at (1693.4,2740.3) {outcome berbeda};
\draw[lno] (seru) to[toR] (outcome);
\foreach \nm/\yy/\lb in {obstacle/2725.2/obstacle, bonus/2755.5/bonus skor}
  {\node[ol,anchor=west] (\nm) at (1835.9,\yy) {\lb}; \draw[lno] (outcome) to[toR] (\nm);}
\foreach \nm/\yy/\lb in {menang/2800.5/menang, kalah/2860.2/kalah}
  {\node[ol,anchor=west] (\nm) at (1717.7,\yy) {\lb}; \draw[lno] (motivasi) to[toR] (\nm);}
\node[ol,anchor=west] (reward) at (1796.5,2800.5) {reward};
\draw[lno] (menang) to[toR] (reward);
\foreach \nm/\yy/\lb in {senang/2785.3/senang, termotivasi/2815.2/termotivasi}
  {\node[ol,anchor=west] (\nm) at (1870.3,\yy) {\lb}; \draw[lno] (reward) to[toR] (\nm);}
\node[ol,anchor=west] (penalti) at (1780.7,2860.2) {penalti};
\draw[lno] (kalah) to[toR] (penalti);
\foreach \nm/\yy/\lb in {frusB/2845.5/frustasi, hukuman/2875.3/hukuman}
  {\node[ol,anchor=west] (\nm) at (1854,\yy) {\lb}; \draw[lno] (penalti) to[toR] (\nm);}
\node[ol,anchor=west] (temanB) at (1464.8,2905.2) {teman sekelas};
\node[ol,anchor=west] (peer) at (1581.4,2905.2) {peer group};
\draw[lno] (kelompok) to[toR] (temanB);
\draw[lno] (temanB) to[toR] (peer);
\foreach \nm/\yy/\lb in {tantA/2965.3/tantangan, komponen/3100.3/komponen}
  {\node[ol,anchor=west] (\nm) at (1304.3,\yy) {\lb}; \draw[lno] (mekanisme) to[toR] (\nm);}
\foreach \nm/\yy/\lb in {tebak/2935.5/tebak-tebakan, story/2965.3/storytelling, kumpul/2995.2/kumpul poin}
  {\node[ol,anchor=west] (\nm) at (1397.2,\yy) {\lb}; \draw[lno] (tantA) to[toR] (\nm);}
\foreach \nm/\yy/\lb in {papan/3040.1/papan, kartu/3100.3/kartu, bidak/3145.3/bidak}
  {\node[ol,anchor=west] (\nm) at (1397.8,\yy) {\lb}; \draw[lno] (komponen) to[toR] (\nm);}
\foreach \nm/\yy/\lb in {race/3025.5/race to finish, ladder/3055.3/ladder}
  {\node[ol,anchor=west] (\nm) at (1467,\yy) {\lb}; \draw[lno] (papan) to[toR] (\nm);}
\foreach \nm/\yy/\lb in {narasi/3085.1/kartu narasi, kartutan/3115.4/kartu tantangan}
  {\node[ol,anchor=west] (\nm) at (1459.7,\yy) {\lb}; \draw[lno] (kartu) to[toR] (\nm);}
\node[ol,anchor=west] (pemB) at (1461.4,3145.3) {pemain};
\draw[lno] (bidak) to[toR] (pemB);

\node[topic] (keb) at (1230,3188) {kelebihan};
\draw[lno] ($(bg.south)+(-4,0)$) -- ++(0,210) -| (keb.north);
\foreach \nm/\xx/\lb in {senangB/690.3/menyenangkan, imersif/1326.4/imersif, aksesibel/1770/aksesibel}
  {\node[olb] (\nm) at (\xx,3241.7) {\lb}; \draw[lno] (keb) to[toD] (\nm);}
\foreach \nm/\xx/\lb in {menarik/356.6/menarik, berkesan/839.6/berkesan, mudah/1023.6/mudah dipahami}
  {\node[olb] (\nm) at (\xx,3288.5) {\lb}; \draw[lno] (senangB) to[toD] (\nm);}
\foreach \nm/\xx/\lb in {simulasi/1174.4/simulasi, tantB/1478.6/tantangan}
  {\node[olb] (\nm) at (\xx,3288.5) {\lb}; \draw[lno] (imersif) to[toD] (\nm);}
\foreach \nm/\xx/\lb in {inklusif/1711.8/inklusif, fisik/1829/fisik}
  {\node[olb] (\nm) at (\xx,3288.5) {\lb}; \draw[lno] (aksesibel) to[toD] (\nm);}
\foreach \nm/\xx/\lb in {desain/211.8/desain, variab/314.6/variabilitas, twist/501/twist}
  {\node[olb] (\nm) at (\xx,3335.8) {\lb}; \draw[lno] (menarik) to[toD] (\nm);}
\foreach \nm/\xx/\lb in {cerita/762.2/cerita, karakter/916.4/karakter}
  {\node[olb] (\nm) at (\xx,3335.8) {\lb}; \draw[lno] (berkesan) to[toD] (\nm);}
\foreach \nm/\xx/\lb in {sederhana/995.5/sederhana, adilB/1051.7/adil}
  {\node[olb] (\nm) at (\xx,3335.8) {\lb}; \draw[lno] (mudah) to[toD] (\nm);}
\foreach \nm/\xx/\lb in {fiktif/1102/fiktif, tiruan/1147.5/tiruan, perkar/1246.7/peran karakter}
  {\node[olb] (\nm) at (\xx,3335.8) {\lb}; \draw[lno] (simulasi) to[toD] (\nm);}
\foreach \nm/\xx/\lb in {probsolvB/1375.8/problem solving, kritis/1478.3/berpikir kritis, eksplorasi/1583/eksplorasi}
  {\node[olb] (\nm) at (\xx,3335.8) {\lb}; \draw[lno] (tantB) to[toD] (\nm);}
\node[olb] (partsemua) at (1712.1,3335.8) {partisipasi semua};
\draw[lno] (inklusif) to[toD] (partsemua);
\foreach \nm/\xx/\lb in {ukuran/1800.8/ukuran, berat/1855.4/berat}
  {\node[olb] (\nm) at (\xx,3335.8) {\lb}; \draw[lno] (fisik) to[toD] (\nm);}
\foreach \nm/\xx/\lb in {engaging/185.1/engaging, unikA/238.8/unik}
  {\node[olb] (\nm) at (\xx,3382.7) {\lb}; \draw[lno] (desain) to[toD] (\nm);}
\foreach \nm/\xx/\lb in {opsi/277.5/opsi, seri/314.2/seri, edisi/352.3/edisi}
  {\node[olb] (\nm) at (\xx,3382.7) {\lb}; \draw[lno] (variab) to[toD] (\nm);}
\foreach \nm/\xx/\lb in {kejutan/401.8/kejutan, takterduga/473.3/tak terduga, rahasia/544.6/rahasia, konflik/599.9/konflik}
  {\node[olb] (\nm) at (\xx,3382.7) {\lb}; \draw[lno] (twist) to[toD] (\nm);}
\foreach \nm/\xx/\lb in {haru/674.7/mengharukan, hibur/762.5/menghibur, relatable/836.4/relatable}
  {\node[olb] (\nm) at (\xx,3382.7) {\lb}; \draw[lno] (cerita) to[toD] (\nm);}
\foreach \nm/\xx/\lb in {ikonik/895.3/ikonik, unikB/937.9/unik}
  {\node[olb] (\nm) at (\xx,3382.7) {\lb}; \draw[lno] (karakter) to[toD] (\nm);}
\foreach \nm/\xx/\lb in {pembantu/1210.8/pembantu, pengenal/1283.9/pengenal}
  {\node[olb] (\nm) at (\xx,3382.7) {\lb}; \draw[lno] (perkar) to[toD] (\nm);}
\foreach \nm/\xx/\lb in {jelajah/1551.7/jelajah, pencarian/1615/pencarian}
  {\node[olb] (\nm) at (\xx,3382.7) {\lb}; \draw[lno] (eksplorasi) to[toD] (\nm);}
\node[olb] (sedang) at (1800.8,3382.7) {sedang};
\draw[lno] (ukuran) to[toD] (sedang);
\node[olb] (ringanB) at (1856,3382.7) {ringan};
\draw[lno] (berat) to[toD] (ringanB);

\node[text=footc, font=\fontsize{13}{15}\selectfont] (foot) at (1016,3488) {Presented with \textbf{xmind AI}};
\end{tikzpicture}
\end{document}
